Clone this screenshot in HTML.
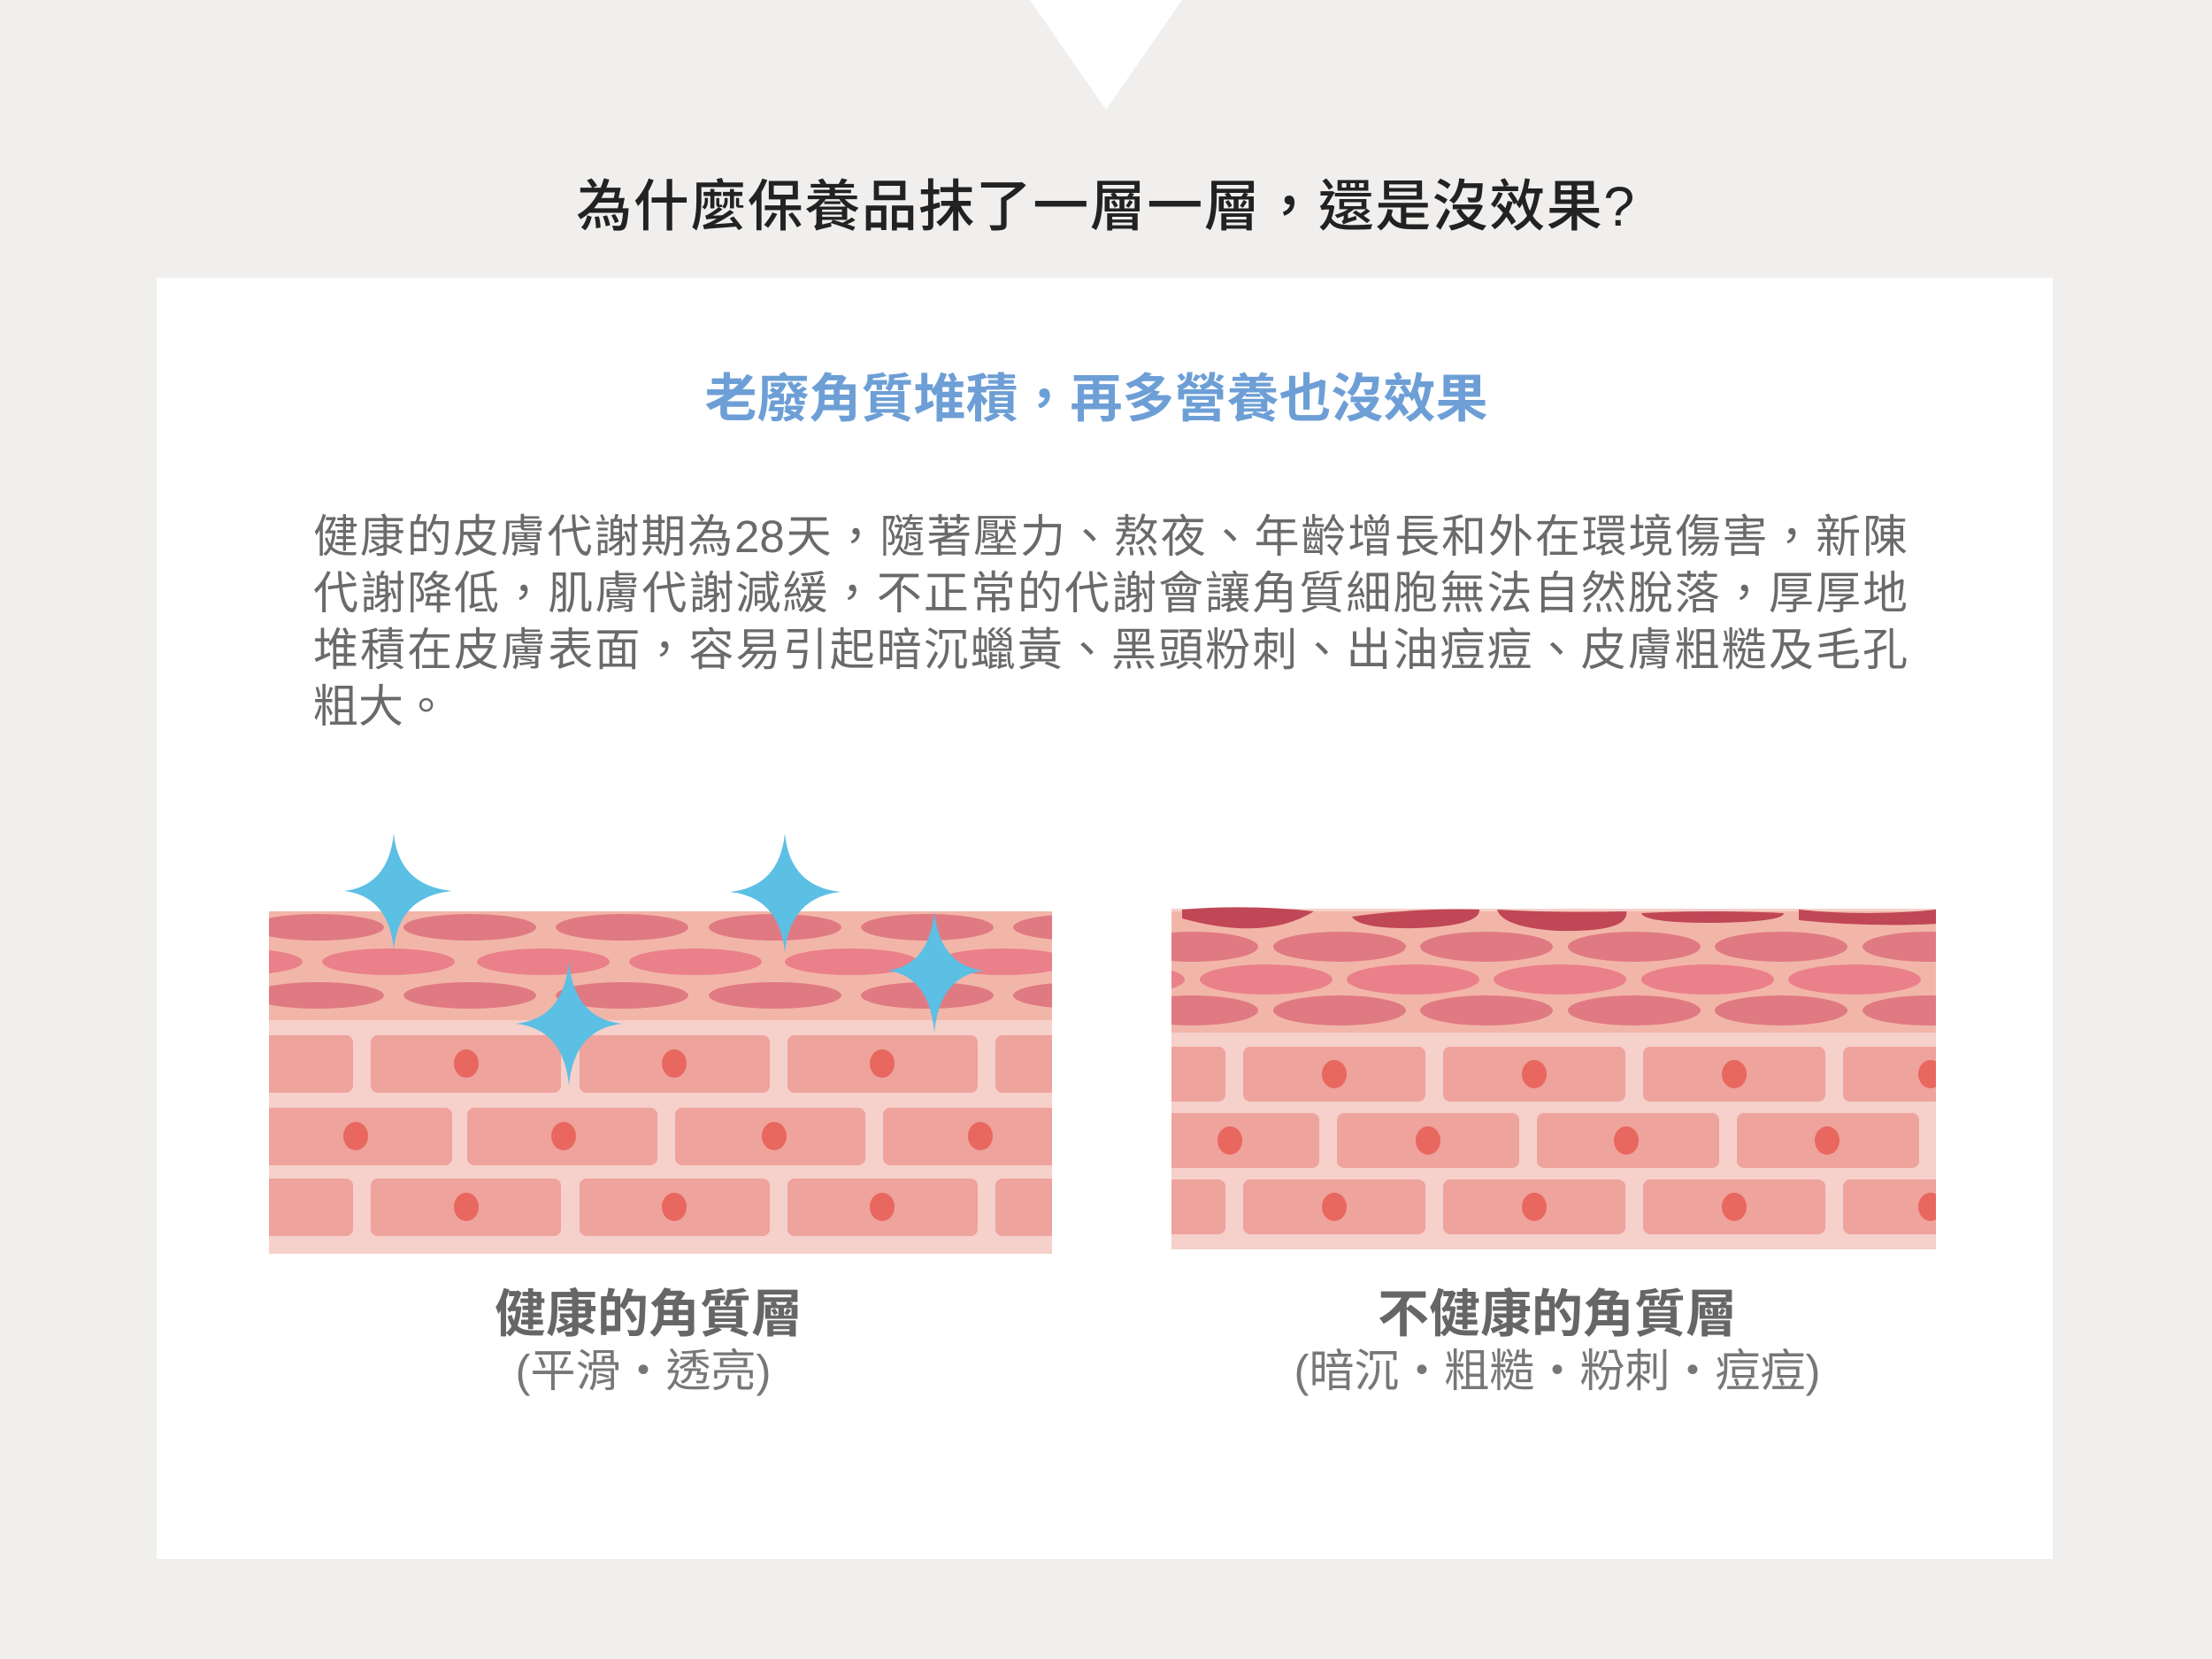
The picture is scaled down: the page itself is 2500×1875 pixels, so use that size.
<!DOCTYPE html>
<html><head><meta charset="utf-8"><style>
body{margin:0;width:2500px;height:1875px;background:#f0efed;position:relative;overflow:hidden;font-family:"Liberation Sans","Noto Sans CJK TC",sans-serif}
.t{position:absolute;white-space:nowrap}
.p{position:absolute;left:354px;width:1802px;font-size:51px;color:#6a6a6a;height:64px;line-height:64px;text-align:justify;text-align-last:justify;white-space:nowrap}
</style></head><body>
<svg width="2500" height="1875" style="position:absolute;left:0;top:0">
<defs>
<clipPath id="cl"><rect x="304" y="1020" width="885" height="397"/></clipPath>
<clipPath id="cr"><rect x="1324" y="1020" width="864" height="392"/></clipPath>
</defs>
<polygon points="1164,0 1336,0 1250,124" fill="#ffffff"/>
<rect x="177" y="314" width="2143" height="1448" fill="#ffffff"/>
<g clip-path="url(#cl)">
<rect x="304" y="1030" width="885" height="387" fill="#f6d0ca"/>
<rect x="304" y="1030" width="885" height="123" fill="#f2b6a9"/>
<g fill="#e07a82">
<ellipse cx="187" cy="1048" rx="75" ry="15"/><ellipse cx="359" cy="1048" rx="75" ry="15"/><ellipse cx="531" cy="1048" rx="75" ry="15"/><ellipse cx="703" cy="1048" rx="75" ry="15"/><ellipse cx="876" cy="1048" rx="75" ry="15"/><ellipse cx="1048" cy="1048" rx="75" ry="15"/><ellipse cx="1220" cy="1048" rx="75" ry="15"/>
<ellipse cx="267" cy="1087" rx="75" ry="15" fill="#ea8089"/><ellipse cx="439" cy="1087" rx="75" ry="15" fill="#ea8089"/><ellipse cx="614" cy="1087" rx="75" ry="15" fill="#ea8089"/><ellipse cx="786" cy="1087" rx="75" ry="15" fill="#ea8089"/><ellipse cx="962" cy="1087" rx="75" ry="15" fill="#ea8089"/><ellipse cx="1134" cy="1087" rx="75" ry="15" fill="#ea8089"/>
<ellipse cx="187" cy="1125" rx="75" ry="15"/><ellipse cx="359" cy="1125" rx="75" ry="15"/><ellipse cx="531" cy="1125" rx="75" ry="15"/><ellipse cx="703" cy="1125" rx="75" ry="15"/><ellipse cx="876" cy="1125" rx="75" ry="15"/><ellipse cx="1048" cy="1125" rx="75" ry="15"/><ellipse cx="1220" cy="1125" rx="75" ry="15"/>
</g>
<g fill="#eea39c">
<rect x="290" y="1170" width="109" height="65" rx="8"/><rect x="419" y="1170" width="215" height="65" rx="8"/><rect x="655" y="1170" width="215" height="65" rx="8"/><rect x="890" y="1170" width="215" height="65" rx="8"/><rect x="1125" y="1170" width="215" height="65" rx="8"/>
<rect x="290" y="1252" width="221" height="65" rx="8"/><rect x="528" y="1252" width="215" height="65" rx="8"/><rect x="763" y="1252" width="215" height="65" rx="8"/><rect x="998" y="1252" width="215" height="65" rx="8"/>
<rect x="290" y="1332" width="109" height="65" rx="8"/><rect x="419" y="1332" width="215" height="65" rx="8"/><rect x="655" y="1332" width="215" height="65" rx="8"/><rect x="890" y="1332" width="215" height="65" rx="8"/><rect x="1125" y="1332" width="215" height="65" rx="8"/>
</g>
<g fill="#e8675f">
<ellipse cx="527" cy="1202" rx="14" ry="16"/><ellipse cx="762" cy="1202" rx="14" ry="16"/><ellipse cx="997" cy="1202" rx="14" ry="16"/>
<ellipse cx="402" cy="1284" rx="14" ry="16"/><ellipse cx="637" cy="1284" rx="14" ry="16"/><ellipse cx="875" cy="1284" rx="14" ry="16"/><ellipse cx="1108" cy="1284" rx="14" ry="16"/>
<ellipse cx="527" cy="1364" rx="14" ry="16"/><ellipse cx="762" cy="1364" rx="14" ry="16"/><ellipse cx="997" cy="1364" rx="14" ry="16"/>
</g>
</g>
<g fill="#5cbfe4">
<path d="M445,942 Q451,1001 511,1007 Q451,1013 445,1073 Q439,1013 389,1007 Q439,1001 445,942Z"/>
<path d="M887,942 Q893,1002 950,1008 Q893,1014 887,1077 Q881,1014 825,1008 Q881,1002 887,942Z"/>
<path d="M1056,1030 Q1062,1091 1112,1097 Q1062,1103 1056,1167 Q1050,1103 1003,1097 Q1050,1091 1056,1030Z"/>
<path d="M643,1087 Q649,1151 703,1157 Q649,1163 643,1227 Q637,1163 583,1157 Q637,1151 643,1087Z"/>
</g>
<g clip-path="url(#cr)">
<rect x="1324" y="1027" width="864" height="385" fill="#f6d0ca"/>
<rect x="1324" y="1030" width="864" height="137" fill="#f2b6a9"/>
<g fill="#e07a82">
<ellipse cx="1347" cy="1070" rx="75" ry="17"/><ellipse cx="1514" cy="1070" rx="75" ry="17"/><ellipse cx="1680" cy="1070" rx="75" ry="17"/><ellipse cx="1847" cy="1070" rx="75" ry="17"/><ellipse cx="2013" cy="1070" rx="75" ry="17"/><ellipse cx="2180" cy="1070" rx="75" ry="17"/>
<ellipse cx="1264" cy="1107" rx="75" ry="17" fill="#ea8089"/><ellipse cx="1431" cy="1107" rx="75" ry="17" fill="#ea8089"/><ellipse cx="1597" cy="1107" rx="75" ry="17" fill="#ea8089"/><ellipse cx="1763" cy="1107" rx="75" ry="17" fill="#ea8089"/><ellipse cx="1930" cy="1107" rx="75" ry="17" fill="#ea8089"/><ellipse cx="2096" cy="1107" rx="75" ry="17" fill="#ea8089"/>
<ellipse cx="1347" cy="1142" rx="75" ry="17"/><ellipse cx="1514" cy="1142" rx="75" ry="17"/><ellipse cx="1680" cy="1142" rx="75" ry="17"/><ellipse cx="1847" cy="1142" rx="75" ry="17"/><ellipse cx="2013" cy="1142" rx="75" ry="17"/><ellipse cx="2180" cy="1142" rx="75" ry="17"/>
</g>
<g fill="#c04755">
<path d="M1336,1028 Q1410,1022 1485,1030 Q1430,1064 1336,1038Z"/>
<path d="M1528,1036 Q1600,1026 1672,1028 Q1674,1046 1600,1049 Q1536,1050 1528,1036Z"/>
<path d="M1692,1028 Q1760,1032 1838,1030 Q1842,1054 1760,1052 Q1698,1048 1692,1028Z"/>
<path d="M1855,1032 Q1935,1028 2016,1032 Q2016,1042 1935,1043 Q1858,1043 1855,1032Z"/>
<path d="M2033,1028 Q2110,1036 2188,1028 L2190,1044 Q2110,1048 2033,1040Z"/>
</g>
<g fill="#eea39c">
<rect x="1300" y="1183" width="85" height="62" rx="8"/><rect x="1405" y="1183" width="206" height="62" rx="8"/><rect x="1631" y="1183" width="206" height="62" rx="8"/><rect x="1857" y="1183" width="206" height="62" rx="8"/><rect x="2083" y="1183" width="206" height="62" rx="8"/>
<rect x="1300" y="1258" width="191" height="62" rx="8"/><rect x="1511" y="1258" width="206" height="62" rx="8"/><rect x="1737" y="1258" width="206" height="62" rx="8"/><rect x="1963" y="1258" width="206" height="62" rx="8"/><rect x="2189" y="1258" width="206" height="62" rx="8"/>
<rect x="1300" y="1333" width="85" height="62" rx="8"/><rect x="1405" y="1333" width="206" height="62" rx="8"/><rect x="1631" y="1333" width="206" height="62" rx="8"/><rect x="1857" y="1333" width="206" height="62" rx="8"/><rect x="2083" y="1333" width="206" height="62" rx="8"/>
</g>
<g fill="#e8675f">
<ellipse cx="1508" cy="1214" rx="14" ry="16"/><ellipse cx="1734" cy="1214" rx="14" ry="16"/><ellipse cx="1960" cy="1214" rx="14" ry="16"/><ellipse cx="2182" cy="1214" rx="14" ry="16"/>
<ellipse cx="1390" cy="1289" rx="14" ry="16"/><ellipse cx="1614" cy="1289" rx="14" ry="16"/><ellipse cx="1838" cy="1289" rx="14" ry="16"/><ellipse cx="2065" cy="1289" rx="14" ry="16"/>
<ellipse cx="1508" cy="1364" rx="14" ry="16"/><ellipse cx="1734" cy="1364" rx="14" ry="16"/><ellipse cx="1960" cy="1364" rx="14" ry="16"/><ellipse cx="2182" cy="1364" rx="14" ry="16"/>
</g>
</g>
</svg>
<div class="t" style="left:0;width:2500px;text-align:center;top:192px;font-size:63px;letter-spacing:1.5px;line-height:84px;font-weight:500;color:#222">為什麼保養品抹了一層一層，還是沒效果?</div>
<div class="t" style="left:0;width:2478px;text-align:center;top:412px;font-size:59px;line-height:78px;font-weight:bold;color:#6d9fd6">老廢角質堆積，再多營養也沒效果</div>
<div class="p" style="top:575px">健康的皮膚代謝期為28天，隨著壓力、熬夜、年齡增長和外在環境傷害，新陳</div>
<div class="p" style="top:639px">代謝降低，肌膚代謝減緩，不正常的代謝會讓角質細胞無法自然脫落，厚厚地</div>
<div class="p" style="top:703px">堆積在皮膚表面，容易引起暗沉蠟黃、黑頭粉刺、出油痘痘、皮膚粗糙及毛孔</div>
<div class="p" style="top:767px;text-align-last:left">粗大。</div>
<div class="t" style="left:333px;width:800px;text-align:center;top:1450px;font-size:58px;line-height:72px;font-weight:bold;color:#666">健康的角質層</div>
<div class="t" style="left:327px;width:800px;text-align:center;top:1518px;font-size:51px;line-height:64px;color:#777">(平滑・透亮)</div>
<div class="t" style="left:1360px;width:800px;text-align:center;top:1450px;font-size:58px;line-height:72px;font-weight:bold;color:#666">不健康的角質層</div>
<div class="t" style="left:1360px;width:800px;text-align:center;top:1518px;font-size:51px;line-height:64px;color:#777">(暗沉・粗糙・粉刺・痘痘)</div>
</body></html>
